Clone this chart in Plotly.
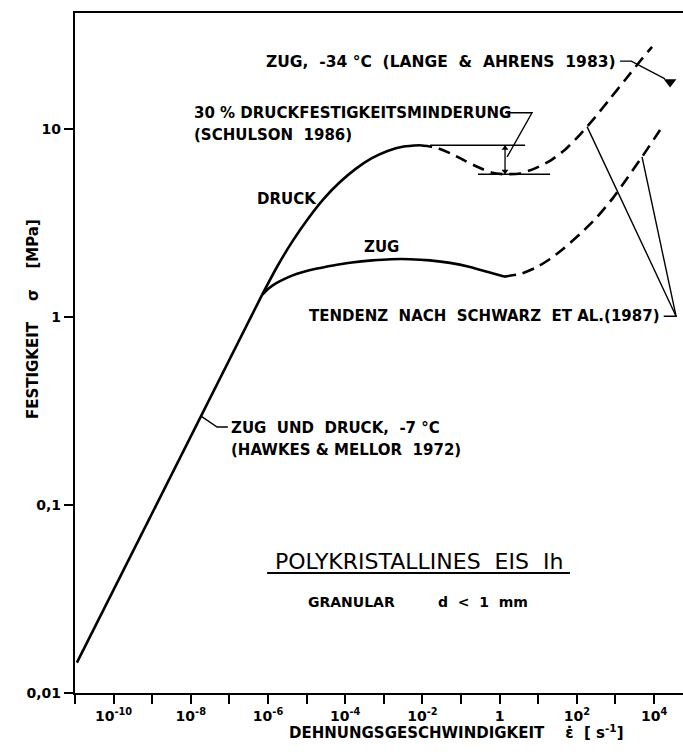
import plotly.graph_objects as go

# ---- strength of polycrystalline ice Ih vs. strain rate ----
# common branch: tension and compression coincide (-7 °C, Hawkes & Mellor 1972)
common_rate = [1.12e-11, 7.0e-7]
common_stress = [0.0145, 1.31]

# compression ("DRUCK"), measured
druck_rate = [7.0e-7, 1.73e-6, 4.37e-6, 1.10e-5, 2.77e-5, 7.1e-5, 1.83e-4,
              4.78e-4, 1.25e-3, 3.26e-3, 8.7e-3]
druck_stress = [1.31, 1.856, 2.54, 3.34, 4.25, 5.19, 6.12, 6.97, 7.64, 8.07, 8.2]

# compression trend at high strain rates (dashed)
druck_trend_rate = [8.7e-3, 0.0212, 0.0519, 0.127, 0.310, 0.635, 1.22, 3.37, 8.26,
                    20.2, 49.5, 121, 296, 725, 1774, 4335, 8870]
druck_trend_stress = [8.2, 8.00, 7.44, 6.77, 6.20, 5.85, 5.75, 5.80, 6.17, 6.77,
                      7.76, 9.33, 11.53, 14.50, 18.23, 22.94, 27.36]

# tension ("ZUG"), measured
zug_rate = [7.0e-7, 1.0e-6, 1.52e-6, 2.45e-6, 4.19e-6, 8.07e-6, 1.86e-5, 4.83e-5,
            1.50e-4, 4.94e-4, 1.54e-3, 4.78e-3, 0.0157, 0.0519, 0.171, 0.50, 1.30]
zug_stress = [1.31, 1.41, 1.50, 1.58, 1.66, 1.735, 1.81, 1.88, 1.95, 2.00, 2.03,
              2.03, 2.00, 1.94, 1.845, 1.735, 1.64]

# tension trend at high strain rates (dashed)
zug_trend_rate = [1.30, 3.37, 8.26, 20.2, 43.9, 121, 333, 867, 2118, 4887, 14290]
zug_trend_stress = [1.64, 1.693, 1.822, 2.035, 2.30, 2.764, 3.40, 4.30, 5.56, 7.10, 9.88]

# tension at -34 °C (Lange & Ahrens 1983)
lange_rate = [2.6e4]
lange_stress = [17.8]

# 30 % reduction of compressive strength (Schulson 1986)
peak_stress = 8.2
reduced_stress = 5.75

# axis ticks
x_tick_vals = [1e-10, 1e-8, 1e-6, 1e-4, 1e-2, 1, 1e2, 1e4]
x_tick_text = ["10<sup>-10</sup>", "10<sup>-8</sup>", "10<sup>-6</sup>", "10<sup>-4</sup>",
               "10<sup>-2</sup>", "1", "10<sup>2</sup>", "10<sup>4</sup>"]
x_minor_vals = [1e-11, 1e-9, 1e-7, 1e-5, 1e-3, 1e-1, 1e1, 1e3]
y_tick_vals = [0.01, 0.1, 1, 10]
y_tick_text = ["0,01", "0,1", "1", "10"]

FONT = "DejaVu Sans"
INK = "black"
DASH = "12px,7px"

fig = go.Figure()


def curve(x, y, dash="solid", width=2.6):
    fig.add_trace(go.Scatter(
        x=x, y=y, mode="lines",
        line=dict(color=INK, width=width, dash=dash, shape="spline", smoothing=0.6),
        hoverinfo="skip", showlegend=False))


def leader(points, width=1.4):
    fig.add_trace(go.Scatter(
        x=[p[0] for p in points], y=[p[1] for p in points], mode="lines",
        line=dict(color=INK, width=width), hoverinfo="skip", showlegend=False))


curve(common_rate, common_stress)
curve(druck_rate, druck_stress)
curve(druck_trend_rate, druck_trend_stress, dash=DASH)
curve(zug_rate, zug_stress)
curve(zug_trend_rate, zug_trend_stress, dash=DASH)

fig.add_trace(go.Scatter(
    x=lange_rate, y=lange_stress, mode="markers",
    marker=dict(symbol="triangle-down", size=11, color=INK),
    hoverinfo="skip", showlegend=False))

# reference levels of the strength drop
leader([(0.0158, peak_stress), (4.55, peak_stress)])
leader([(0.275, reduced_stress), (20.2, reduced_stress)])

# double arrow between the two levels
leader([(1.38, peak_stress), (1.38, reduced_stress)], width=1.3)
fig.add_trace(go.Scatter(
    x=[1.38, 1.38], y=[peak_stress * 0.963, reduced_stress * 1.037], mode="markers",
    marker=dict(symbol=["triangle-up", "triangle-down"], size=6, color=INK),
    hoverinfo="skip", showlegend=False))

# leader lines from the labels
leader([(1318, 22.96), (2570, 22.96), (19280, 18.45)])
leader([(1.38, 12.2), (6.9, 12.2), (1.56, 7.1)])
leader([(17780, 1.01), (37150, 1.01), (184, 10.3)])
leader([(37150, 1.01), (4887, 7.10)])
leader([(1.84e-8, 0.297), (4.8e-8, 0.26), (9.1e-8, 0.26)])


def label(text, x, y, size=15, anchor="left", bold=True):
    fig.add_annotation(
        text=f"<b>{text}</b>" if bold else text, x=x, y=y, xref="x", yref="y",
        xanchor=anchor, yanchor="middle", showarrow=False,
        font=dict(family=FONT, size=size, color=INK))


label("ZUG,  -34 °C  (LANGE  &  AHRENS  1983)", 3.067, 1.356, size=15.5, anchor="right")
label("30 % DRUCKFESTIGKEITSMINDERUNG", -7.97, 1.085)
label("(SCHULSON  1986)", -7.97, 0.968)
label("DRUCK", -5.51, 0.628, anchor="center")
label("ZUG", -3.07, 0.372, anchor="center")
label("TENDENZ  NACH  SCHWARZ  ET AL.(1987)", 4.21, 0.005, anchor="right")
label("ZUG  UND  DRUCK,  -7 °C", -7.0, -0.590)
label("(HAWKES & MELLOR  1972)", -7.0, -0.707)
label("POLYKRISTALLINES  EIS  Ih", -2.10, -1.303, size=22, anchor="center", bold=False)
label("GRANULAR", -3.84, -1.516, size=14, anchor="center")
label("d  <  1  mm", -0.44, -1.516, size=14, anchor="center")

# underline of the title
fig.add_shape(type="line", xref="paper", yref="paper", x0=0.316, x1=0.814,
              y0=0.1765, y1=0.1765, line=dict(color=INK, width=2))

# axis titles
fig.add_annotation(text="<b>FESTIGKEIT    σ    [MPa]</b>", xref="paper", yref="paper",
                   x=-0.087, y=0.55, textangle=-90, showarrow=False,
                   font=dict(family=FONT, size=15, color=INK))
fig.add_annotation(text="<b>DEHNUNGSGESCHWINDIGKEIT    ε̇  [ s<sup>-1</sup>]</b>",
                   xref="paper", yref="paper", x=0.627, y=-0.075, showarrow=False,
                   font=dict(family=FONT, size=15, color=INK))

fig.update_xaxes(type="log", range=[-11, 4.75], showline=True, linewidth=2.2,
                 linecolor=INK, mirror=True, ticks="outside", ticklen=9, tickwidth=2,
                 tickcolor=INK, tickvals=x_tick_vals, ticktext=x_tick_text,
                 minor=dict(tickvals=x_minor_vals, ticks="outside", ticklen=9,
                            tickwidth=2, tickcolor=INK, showgrid=False),
                 showgrid=False, zeroline=False,
                 tickfont=dict(family=FONT, size=14, color=INK, weight="bold"))
fig.update_yaxes(type="log", range=[-2, 1.617], showline=True, linewidth=2.2,
                 linecolor=INK, ticks="outside", ticklen=9, tickwidth=2,
                 tickcolor=INK, tickvals=y_tick_vals, ticktext=y_tick_text,
                 showgrid=False, zeroline=False,
                 tickfont=dict(family=FONT, size=14, color=INK, weight="bold"))

fig.update_layout(width=683, height=754, autosize=False,
                  margin=dict(l=75, r=0, t=13, b=61),
                  plot_bgcolor="white", paper_bgcolor="white")

fig.write_html("out.html")
